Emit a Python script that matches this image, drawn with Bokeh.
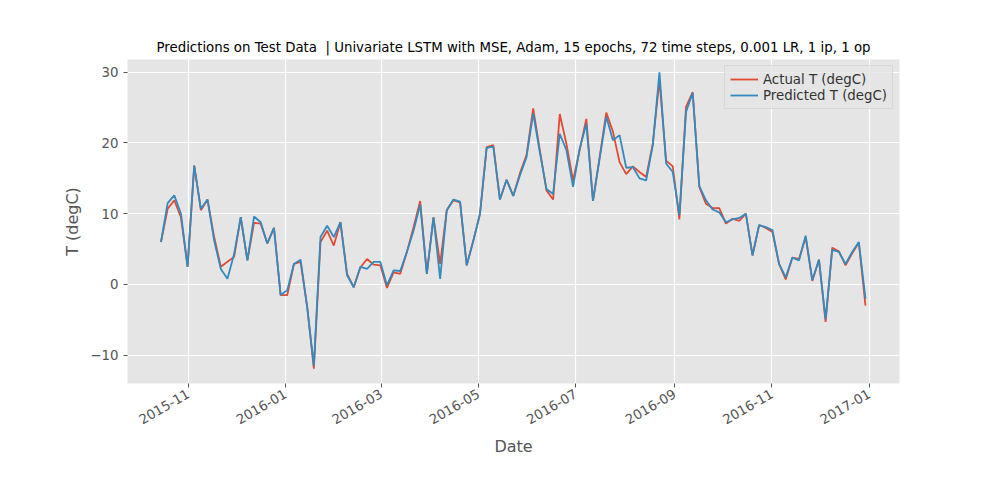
import numpy as np
import pandas as pd
from math import pi
from bokeh.plotting import figure
from bokeh.models import Range1d, MonthsTicker, DatetimeTickFormatter, Legend, LegendItem
from bokeh.embed import file_html
from bokeh.resources import INLINE

start_date = "2015-10-15"
step = "100h"
actual = [6.0,10.7,11.9,9.5,2.5,16.8,10.5,12.0,6.7,2.5,3.2,3.9,9.5,3.4,8.7,8.6,5.8,8.0,-1.5,-1.5,2.9,3.2,-3.2,-11.9,6.0,7.6,5.5,8.8,1.5,-0.4,2.4,3.6,2.8,2.7,-0.5,1.7,1.5,
          4.6,8.1,11.8,1.5,9.5,2.9,10.5,11.9,11.6,2.7,6.2,10.0,19.4,19.7,12.0,14.8,12.5,15.7,18.3,24.9,19.0,13.3,12.0,24.1,19.9,14.7,19.0,23.4,11.8,18.0,24.3,21.6,17.3,15.6,16.7,15.9,
          15.2,19.9,28.9,17.5,16.7,9.2,25.1,27.2,13.8,11.4,10.8,10.8,8.6,9.3,9.0,10.0,4.1,8.4,8.0,7.4,2.9,0.7,3.8,3.6,6.7,0.5,3.5,-5.3,5.2,4.7,2.7,4.4,5.9,-3.0]
predicted = [6.0,11.5,12.6,10.0,2.5,16.8,10.7,12.0,6.2,2.2,0.8,4.3,9.5,3.4,9.6,8.8,5.8,8.0,-1.5,-0.8,2.9,3.5,-3.2,-11.5,6.7,8.3,6.7,8.8,1.3,-0.4,2.5,2.2,3.2,3.2,-0.1,2.0,1.9,
             4.6,7.6,11.3,1.5,9.5,0.8,10.5,12.0,11.7,2.7,6.2,10.0,19.3,19.5,12.0,14.8,12.5,15.4,18.0,24.2,18.7,13.5,12.8,21.3,19.0,13.8,19.2,22.7,11.8,17.8,23.7,20.4,21.1,16.5,16.6,15.0,
             14.7,19.7,30.0,17.1,15.9,9.8,24.4,27.1,13.9,11.9,10.6,10.2,8.8,9.2,9.4,10.0,4.1,8.4,8.1,7.7,2.9,1.0,3.8,3.4,6.9,0.6,3.5,-4.9,4.9,4.6,2.9,4.6,6.0,-2.0]
dates = pd.date_range(start_date, periods=len(actual), freq=step)

title = "Predictions on Test Data \u00a0| Univariate LSTM with MSE, Adam, 15 epochs, 72 time steps, 0.001 LR, 1 ip, 1 op"

p = figure(width=984, height=464, x_axis_type="datetime", output_backend="svg",
           toolbar_location=None, title=title,
           x_range=Range1d(pd.Timestamp("2015-09-24"), pd.Timestamp("2017-01-20")),
           y_range=Range1d(-14.0, 31.8),
           min_border_left=127, min_border_right=85, min_border_top=59, min_border_bottom=81)
p.background_fill_color = "#E5E5E5"
p.border_fill_color = "white"
p.outline_line_color = None
p.title.align = "center"
p.title.text_font_style = "normal"
p.title.text_font_size = "10pt"
p.title.text_font = "DejaVu Sans"
p.title.text_color = "black"
p.grid.grid_line_color = "white"
p.grid.grid_line_width = 1.2
for ax in [p.xaxis, p.yaxis]:
    ax.axis_line_color = None
    ax.major_tick_line_color = "#555555"
    ax.minor_tick_line_color = None
    ax.major_label_text_color = "#555555"
    ax.major_label_text_font_size = "10pt"
    ax.major_label_text_font = "DejaVu Sans"
    ax.axis_label_text_color = "#555555"
    ax.axis_label_text_font_size = "12pt"
    ax.axis_label_text_font_style = "normal"
    ax.axis_label_text_font = "DejaVu Sans"
    ax.major_tick_out = 4
    ax.major_tick_in = 0
p.xaxis.ticker = MonthsTicker(months=[0, 2, 4, 6, 8, 10])
p.xaxis.formatter = DatetimeTickFormatter(months="%Y-%m", days="%Y-%m")
p.xaxis.major_label_orientation = pi / 6
p.yaxis.ticker = [-10, 0, 10, 20, 30]
p.xaxis.axis_label = "Date"
p.yaxis.axis_label = "T (degC)"

r1 = p.line(dates, actual, line_color="#E24A33", line_width=1.8)
r2 = p.line(dates, predicted, line_color="#348ABD", line_width=1.8)
leg = Legend(items=[LegendItem(label="Actual T (degC)", renderers=[r1]),
                    LegendItem(label="Predicted T (degC)", renderers=[r2])],
             location="top_right", background_fill_color="#E5E5E5", background_fill_alpha=0.8,
             border_line_color="#cccccc", label_text_font_size="10pt", label_text_font="DejaVu Sans",
             label_text_color="#333333", spacing=0, padding=5, margin=6, glyph_width=28, label_height=16, glyph_height=16)
p.add_layout(leg)

open("out.html", "w").write(file_html(p, INLINE))
